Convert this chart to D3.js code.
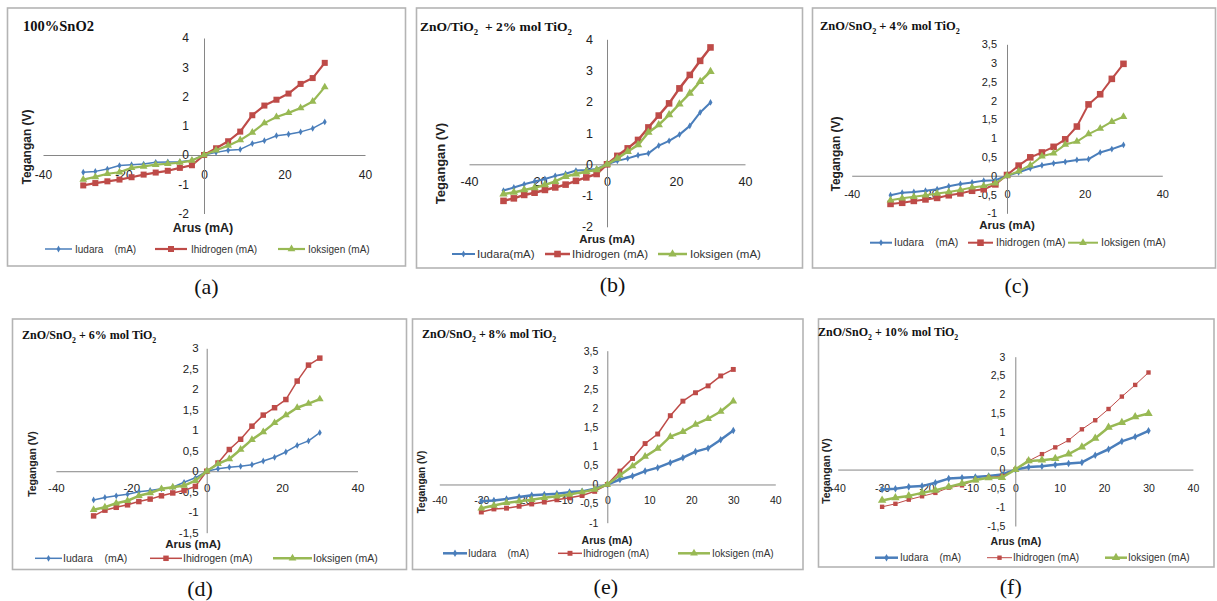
<!DOCTYPE html>
<html><head><meta charset="utf-8">
<script src="https://cdn.jsdelivr.net/npm/d3@7"></script>
<style>
html,body{margin:0;padding:0;background:#fff;}
svg{display:block;}
text{white-space:pre;}
</style>
</head><body>
<svg id="chart" width="1217" height="601"></svg>
<script>
// ---------------- DATA ----------------
const current = [-30,-27,-24,-21,-18,-15,-12,-9,-6,-3,0,3,6,9,12,15,18,21,24,27,30];

const seriesNames = ["Iudara", "Ihidrogen", "Ioksigen"];
const seriesColors = ["#4A7EBB", "#BE4B48", "#98B954"];

// (a) 100% SnO2
const aUdara    = [-0.59,-0.56,-0.48,-0.36,-0.33,-0.31,-0.25,-0.24,-0.23,-0.18,0,0.09,0.16,0.19,0.39,0.49,0.66,0.71,0.79,0.91,1.13];
const aHidrogen = [-1.04,-0.96,-0.90,-0.84,-0.76,-0.67,-0.60,-0.54,-0.44,-0.35,0,0.23,0.47,0.80,1.36,1.69,1.89,2.10,2.43,2.63,3.15];
const aOksigen  = [-0.84,-0.75,-0.64,-0.59,-0.44,-0.39,-0.33,-0.30,-0.26,-0.19,0,0.16,0.32,0.51,0.77,1.09,1.30,1.44,1.61,1.83,2.32];
// (b) 2% mol TiO2
const bUdara    = [-0.84,-0.74,-0.64,-0.55,-0.47,-0.37,-0.30,-0.20,-0.18,-0.15,0,0.11,0.19,0.29,0.35,0.60,0.75,0.95,1.23,1.66,1.98];
const bHidrogen = [-1.17,-1.09,-0.98,-0.91,-0.82,-0.74,-0.65,-0.53,-0.42,-0.31,0,0.27,0.51,0.78,1.18,1.56,1.95,2.43,2.86,3.31,3.74];
const bOksigen  = [-0.95,-0.90,-0.82,-0.75,-0.66,-0.55,-0.39,-0.31,-0.23,-0.18,0,0.19,0.41,0.62,1.02,1.26,1.58,1.93,2.27,2.65,2.97];
// (c) 4% mol TiO2
const cUdara    = [-0.52,-0.45,-0.43,-0.40,-0.36,-0.28,-0.22,-0.18,-0.13,-0.12,0,0.09,0.20,0.28,0.33,0.37,0.42,0.44,0.62,0.71,0.82];
const cHidrogen = [-0.75,-0.72,-0.67,-0.63,-0.59,-0.52,-0.47,-0.40,-0.36,-0.23,0.02,0.27,0.49,0.62,0.77,0.97,1.31,1.90,2.17,2.58,2.98];
const cOksigen  = [-0.65,-0.60,-0.56,-0.52,-0.47,-0.43,-0.38,-0.31,-0.27,-0.20,0,0.12,0.28,0.52,0.60,0.83,0.91,1.11,1.26,1.44,1.57];
// (d) 6% mol TiO2
const dUdara    = [-0.70,-0.64,-0.60,-0.56,-0.50,-0.47,-0.43,-0.39,-0.27,-0.16,0,0.06,0.10,0.12,0.16,0.25,0.34,0.47,0.63,0.74,0.94];
const dHidrogen = [-1.09,-0.95,-0.88,-0.82,-0.74,-0.68,-0.60,-0.53,-0.47,-0.37,0,0.20,0.53,0.78,1.10,1.37,1.55,1.75,2.20,2.59,2.76];
const dOksigen  = [-0.94,-0.88,-0.78,-0.72,-0.60,-0.53,-0.43,-0.39,-0.35,-0.23,0,0.18,0.30,0.53,0.77,0.96,1.18,1.37,1.55,1.65,1.76];
// (e) 8% mol TiO2
const eUdara    = [-0.44,-0.42,-0.38,-0.33,-0.28,-0.26,-0.24,-0.20,-0.18,-0.11,0,0.13,0.22,0.35,0.44,0.57,0.70,0.86,0.95,1.17,1.41];
const eHidrogen = [-0.72,-0.64,-0.62,-0.57,-0.51,-0.46,-0.40,-0.35,-0.29,-0.18,0,0.35,0.68,1.07,1.32,1.80,2.18,2.40,2.58,2.84,3.01];
const eOksigen  = [-0.62,-0.55,-0.48,-0.44,-0.40,-0.35,-0.31,-0.26,-0.20,-0.13,0,0.24,0.48,0.73,0.94,1.25,1.38,1.57,1.72,1.91,2.18];
// (f) 10% mol TiO2
const fUdara    = [-0.53,-0.51,-0.46,-0.44,-0.35,-0.24,-0.22,-0.20,-0.17,-0.13,0,0.07,0.09,0.13,0.16,0.19,0.38,0.54,0.75,0.87,1.03];
const fHidrogen = [-0.99,-0.91,-0.80,-0.71,-0.62,-0.48,-0.42,-0.28,-0.21,-0.17,0,0.23,0.41,0.59,0.78,1.07,1.31,1.61,1.94,2.25,2.58];
const fOksigen  = [-0.82,-0.75,-0.70,-0.62,-0.55,-0.46,-0.37,-0.28,-0.22,-0.21,0,0.23,0.25,0.29,0.41,0.60,0.83,1.12,1.25,1.40,1.49];

// tick values
const xTicksWide = [-40,-20,0,20,40];
const xTicksFine = [-40,-30,-20,-10,0,10,20,30,40];
const yTicksA = [-2,-1,0,1,2,3,4];
const yTicksC = [-1,-0.5,0,0.5,1,1.5,2,2.5,3,3.5];
const yTicksD = [-1.5,-1,-0.5,0,0.5,1,1.5,2,2.5,3];

// titles: array of [text, isSubscript]
const titleA = [["100%SnO2",0]];
const titleB = [["ZnO/TiO",0],["2",1],["  + 2% mol TiO",0],["2",1]];
const titleC = [["ZnO/SnO",0],["2",1],[" + 4% mol TiO",0],["2",1]];
const titleD = [["ZnO/SnO",0],["2",1],[" + 6% mol TiO",0],["2",1]];
const titleE = [["ZnO/SnO",0],["2",1],[" + 8% mol TiO",0],["2",1]];
const titleF = [["ZnO/SnO",0],["2",1],[" + 10% mol TiO",0],["2",1]];

const legendStd = ["Iudara    (mA)", "Ihidrogen (mA)", "Ioksigen (mA)"];
const legendB   = ["Iudara(mA)", "Ihidrogen (mA)", "Ioksigen (mA)"];
const panelLetters = ["(a)","(b)","(c)","(d)","(e)","(f)"];

// ---------------- LAYOUT / STYLE ----------------
const panels = [
 {data:[aUdara,aHidrogen,aOksigen], title:titleA, titleX:23, titleY:31, titleFs:14.5,
  box:[7.5,8,405.5,266], xr:[43,365], yr:[213.5,38], yd:[-2,4], yt:yTicksA, xt:xTicksWide,
  tickFs:12, xPad:15, yPad:15, yTitle:[28,147,12], xTitle:[203,232,12.5],
  legY:249, legFs:10, leg:legendStd, legX:[[45,72,75],[155,187,191],[278,305,308]],
  lw:[1.5,2.2,2.2], ms:[4.5,5.5,6], lab:[206.5,294]},
 {data:[bUdara,bHidrogen,bOksigen], title:titleB, titleX:420, titleY:31, titleFs:13.5,
  box:[416.5,8,802.5,268], xr:[469,745], yr:[226.8,39.3], yd:[-2,4], yt:yTicksA, xt:xTicksWide,
  tickFs:12.5, xPad:12.5, yPad:14, yTitle:[442,163.5,13], xTitle:[607,242.5,11.5],
  legY:254, legFs:11.5, leg:legendB, legX:[[452,475,477],[545,570,572],[658,687,690]],
  lw:[2,2.5,2.5], ms:[4.5,6,6.5], lab:[612.5,292]},
 {data:[cUdara,cHidrogen,cOksigen], title:titleC, titleX:820, titleY:30, titleFs:12.5,
  box:[812.5,8,1215.5,268], xr:[851.7,1162.3], yr:[213.3,44.3], yd:[-1,3.5], yt:yTicksC, xt:xTicksWide,
  tickFs:11, xPad:14, yPad:10, yTitle:[837,154,12], xTitle:[1007,229,11.5],
  legY:242.7, legFs:10.5, leg:legendStd, legX:[[870,892,894],[968,993,996],[1068,1098,1101]],
  lw:[2,2,2], ms:[4.5,6,6], lab:[1016.7,293]},
 {data:[dUdara,dHidrogen,dOksigen], title:titleD, titleX:22, titleY:339, titleFs:12,
  box:[12.5,319,406.5,569.5], xr:[55.9,357.5], yr:[532.7,348.3], yd:[-1.5,3], yt:yTicksD, xt:xTicksWide,
  tickFs:11.5, xPad:13, yPad:8, yTitle:[33,464,10.5], xTitle:[193,548,11.5],
  legY:558.3, legFs:10.5, leg:legendStd, legX:[[35,62,63],[150,182,183],[273,312,313]],
  lw:[1.5,1.5,2.5], ms:[4.5,5,6], lab:[200,596]},
 {data:[eUdara,eHidrogen,eOksigen], title:titleE, titleX:422, titleY:338, titleFs:12,
  box:[412.5,319,803,569.5], xr:[439.3,775.3], yr:[522.7,350.7], yd:[-1,3.5], yt:yTicksC, xt:xTicksFine,
  tickFs:10.5, xPad:12.5, yPad:9, yTitle:[422,482,10], xTitle:[607,544,10.5],
  legY:553.3, legFs:10, leg:legendStd, legX:[[443,467,468],[558,582,583],[678,710,712]],
  lw:[2.5,1.5,2.5], ms:[5,4.5,6], lab:[605.8,594]},
 {data:[fUdara,fHidrogen,fOksigen], title:titleF, titleX:818, titleY:336, titleFs:12,
  box:[818.5,319,1214,567], xr:[837.7,1192.9], yr:[526,356.7], yd:[-1.5,3], yt:yTicksD, xt:xTicksFine,
  tickFs:10.5, xPad:14.5, yPad:10, yTitle:[827,471,10.5], xTitle:[1016,545,10.5],
  legY:557.7, legFs:10, leg:legendStd, legX:[[875,898,900],[987,1012,1013],[1105,1127,1128]],
  lw:[2.5,1,2.5], ms:[5,4,6.5], lab:[1010.8,594]}
];

const svg = d3.select("#chart");
const sans = "'Liberation Sans', Arial, sans-serif";
const serif = "'Liberation Serif', 'Times New Roman', serif";
const fmt = v => String(v).replace(".", ",");

function markerPath(i, s) {
  const types = [d3.symbolDiamond, d3.symbolSquare, d3.symbolTriangle];
  const k = [0.55, 1, 0.6][i];
  return d3.symbol().type(types[i]).size(s * s * k * 1.2)();
}

panels.forEach((p, pi) => {
  const g = svg.append("g");
  // frame
  g.append("rect")
    .attr("x", p.box[0]).attr("y", p.box[1])
    .attr("width", p.box[2] - p.box[0]).attr("height", p.box[3] - p.box[1])
    .attr("fill", "#fff").attr("stroke", "#B4B4B4").attr("stroke-width", 1.6);

  const x = d3.scaleLinear().domain([-40, 40]).range(p.xr);
  const y = d3.scaleLinear().domain(p.yd).range(p.yr);

  // axes
  const yAxis = d3.axisLeft(y).tickValues(p.yt).tickSize(0).tickSizeOuter(0).tickPadding(p.yPad).tickFormat(fmt);
  const xAxis = d3.axisBottom(x).tickValues(p.xt).tickSize(0).tickSizeOuter(0).tickPadding(p.xPad).tickFormat(fmt);

  const gx = g.append("g").attr("transform", `translate(0,${y(0)})`).call(xAxis);
  const gy = g.append("g").attr("transform", `translate(${x(0)},0)`).call(yAxis);
  [gx, gy].forEach(ax => {
    ax.select(".domain").attr("stroke", "#868686").attr("stroke-width", 1);
    ax.selectAll("text").attr("font-family", sans).attr("font-size", p.tickFs).attr("fill", "#222");
  });

  // series
  const line = d3.line().x((d, i) => x(current[i])).y(d => y(d));
  p.data.forEach((vals, si) => {
    g.append("path").datum(vals)
      .attr("d", line)
      .attr("fill", "none")
      .attr("stroke", seriesColors[si])
      .attr("stroke-width", p.lw[si])
      .attr("stroke-linejoin", "round");
    g.selectAll(null).data(vals).enter().append("path")
      .attr("d", markerPath(si, p.ms[si]))
      .attr("transform", (d, i) => `translate(${x(current[i])},${y(d)})`)
      .attr("fill", seriesColors[si]);
  });

  // title
  const t = g.append("text").attr("x", p.titleX).attr("y", p.titleY)
    .attr("font-family", serif).attr("font-weight", "bold").attr("font-size", p.titleFs).attr("fill", "#111");
  p.title.forEach((part, k) => {
    const prevSub = k > 0 && p.title[k - 1][1];
    const ts = t.append("tspan").text(part[0]);
    if (part[1]) ts.attr("font-size", p.titleFs * 0.65).attr("dy", p.titleFs * 0.3);
    else if (prevSub) ts.attr("dy", -p.titleFs * 0.3);
  });

  // axis titles
  g.append("text")
    .attr("transform", `translate(${p.yTitle[0]},${p.yTitle[1]}) rotate(-90)`)
    .attr("text-anchor", "middle").attr("dominant-baseline", "middle")
    .attr("font-family", sans).attr("font-weight", "bold").attr("font-size", p.yTitle[2]).attr("fill", "#222")
    .text("Tegangan (V)");
  g.append("text")
    .attr("x", p.xTitle[0]).attr("y", p.xTitle[1])
    .attr("text-anchor", "middle")
    .attr("font-family", sans).attr("font-weight", "bold").attr("font-size", p.xTitle[2]).attr("fill", "#222")
    .text("Arus (mA)");

  // legend
  p.leg.forEach((lbl, si) => {
    const lx = p.legX[si];
    g.append("line").attr("x1", lx[0]).attr("x2", lx[1]).attr("y1", p.legY).attr("y2", p.legY)
      .attr("stroke", seriesColors[si]).attr("stroke-width", p.lw[si]);
    g.append("path").attr("d", markerPath(si, p.ms[si]))
      .attr("transform", `translate(${(lx[0] + lx[1]) / 2},${p.legY})`)
      .attr("fill", seriesColors[si]);
    g.append("text").attr("x", lx[2]).attr("y", p.legY).attr("dy", "0.35em")
      .attr("font-family", sans).attr("font-size", p.legFs).attr("fill", "#333")
      .text(lbl);
  });

  // panel letter
  svg.append("text").attr("x", p.lab[0]).attr("y", p.lab[1])
    .attr("text-anchor", "middle")
    .attr("font-family", serif).attr("font-size", 22).attr("fill", "#111")
    .text(panelLetters[pi]);
});
</script>
</body></html>
